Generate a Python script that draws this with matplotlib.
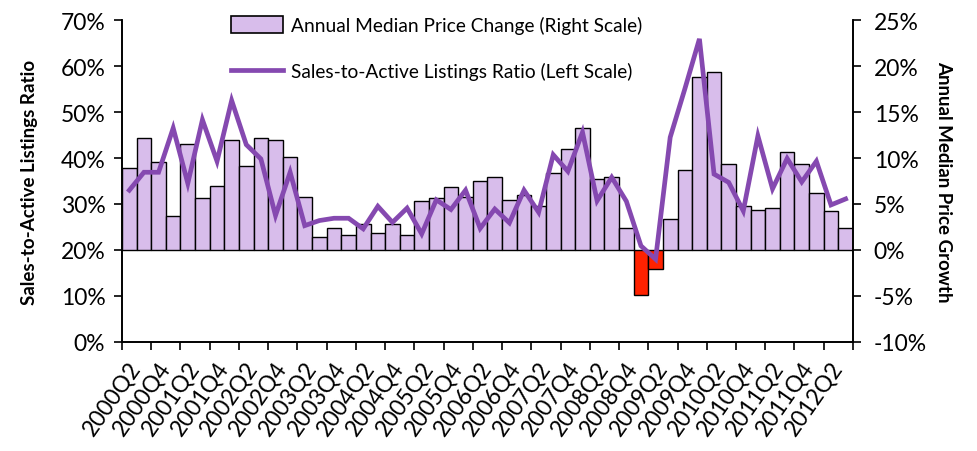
import matplotlib
matplotlib.use('Agg')
import matplotlib.pyplot as plt
import matplotlib.ticker as ticker
import matplotlib.transforms as mtransforms
from matplotlib.patches import Patch
from matplotlib.lines import Line2D

#
# Data
#

quarters = [f'{y}Q{q}' for y in range(2000, 2013) for q in range(1, 5)][1:51]

price_change = [8.9, 12.2, 9.6, 3.7, 11.5, 5.6, 7.0, 12.0, 9.1, 12.2,
                12.0, 10.1, 5.8, 1.45, 2.4, 1.6, 2.8, 1.8, 2.8, 1.6,
                5.3, 5.6, 6.8, 5.8, 7.5, 7.9, 5.4, 6.0, 4.75, 8.4,
                11.0, 13.3, 7.7, 7.9, 2.4, -4.9, -2.1, 3.4, 8.7, 18.8,
                19.3, 9.4, 4.75, 4.4, 4.6, 10.6, 9.4, 6.2, 4.2, 2.4]

sales_ratio = [33.0, 36.9, 36.9, 46.5, 34.5, 48.3, 39.3, 52.5, 42.9, 39.8,
               27.5, 36.9, 25.3, 26.4, 26.9, 26.9, 24.6, 29.5, 26.0, 29.1,
               23.5, 30.9, 28.8, 33.0, 24.7, 28.9, 25.9, 33.0, 28.2, 40.7,
               37.1, 45.6, 30.7, 35.8, 30.6, 20.9, 18.0, 44.5, 55.0, 65.9,
               36.5, 34.7, 28.5, 44.8, 33.3, 39.9, 34.8, 39.3, 29.8, 31.1]

#
# Graph
#

plt.rcParams['font.family'] = ['Lato', 'DejaVu Sans']
plt.rcParams['axes.unicode_minus'] = False

bar_color = '#D8BDEB'
neg_color = '#FF2200'
line_color = '#8549B0'

fig, ax = plt.subplots(figsize=(9.77, 4.52), dpi=100)
fig.subplots_adjust(left=0.1249, right=0.873, bottom=0.2412, top=0.9535)
ax2 = ax.twinx()

x = list(range(len(quarters)))
growth = [v / 100 for v in price_change]
colors = [bar_color if v >= 0 else neg_color for v in growth]
ax2.bar(x, growth, width=1.0, color=colors, edgecolor='black', linewidth=1.0)

ratio = [v / 100 for v in sales_ratio]
ax.plot(x, ratio, color=line_color, linewidth=3.4, solid_joinstyle='miter')

# line on top of the bars
ax.set_zorder(ax2.get_zorder() + 1)
ax.patch.set_visible(False)

ax.set_xlim(-0.5, len(quarters) - 0.5)
ax.set_ylim(0, 0.7)
ax2.set_ylim(-0.10, 0.25)
ax.yaxis.set_major_locator(ticker.MultipleLocator(0.1))
ax2.yaxis.set_major_locator(ticker.MultipleLocator(0.05))
ax.yaxis.set_major_formatter(ticker.PercentFormatter(1.0, decimals=0))
ax2.yaxis.set_major_formatter(ticker.PercentFormatter(1.0, decimals=0))

# tick marks between every two quarters, labels on every other quarter
ax.set_xticks([i - 0.5 for i in range(0, len(quarters) + 1, 2)])
ax.set_xticklabels([])
ax.set_xticks(x[::2], minor=True)
ax.set_xticklabels(quarters[::2], minor=True, rotation=55, ha='right',
                   va='center', rotation_mode='anchor')
ax.tick_params(axis='x', which='minor', length=0, pad=15, labelsize=16.5)
ax.tick_params(axis='x', which='major', length=6, width=1.2, direction='out')
ax.tick_params(axis='y', length=6, width=1.2, labelsize=16.5, pad=6)
ax2.tick_params(axis='y', length=6, width=1.2, labelsize=16.5, pad=9)

# nudge the rotated quarter labels a little to the right
shift = mtransforms.ScaledTranslation(7 / 100, 0, fig.dpi_scale_trans)
for lbl in ax.get_xticklabels(minor=True):
    lbl.set_transform(lbl.get_transform() + shift)

for a in (ax, ax2):
    a.spines['top'].set_visible(False)
    for s in ('left', 'right', 'bottom'):
        a.spines[s].set_linewidth(1.2)

ax.set_ylabel('Sales-to-Active Listings Ratio', fontsize=13.5, fontweight='bold', labelpad=16)
ax2.set_ylabel('Annual Median Price Growth', fontsize=13.5, fontweight='bold',
               rotation=-90, labelpad=18)

handles = [Patch(facecolor=bar_color, edgecolor='black', linewidth=1.2),
           Line2D([], [], color=line_color, linewidth=3.4)]
labels = ['Annual Median Price Change (Right Scale)',
          'Sales-to-Active Listings Ratio (Left Scale)']
ax.legend(handles, labels, loc='upper left', bbox_to_anchor=(0.126, 1.065),
          frameon=False, fontsize=13.8, labelspacing=1.45, handlelength=2.7,
          handleheight=1.0, handletextpad=0.4)

fig.savefig('out.png', dpi=100)
